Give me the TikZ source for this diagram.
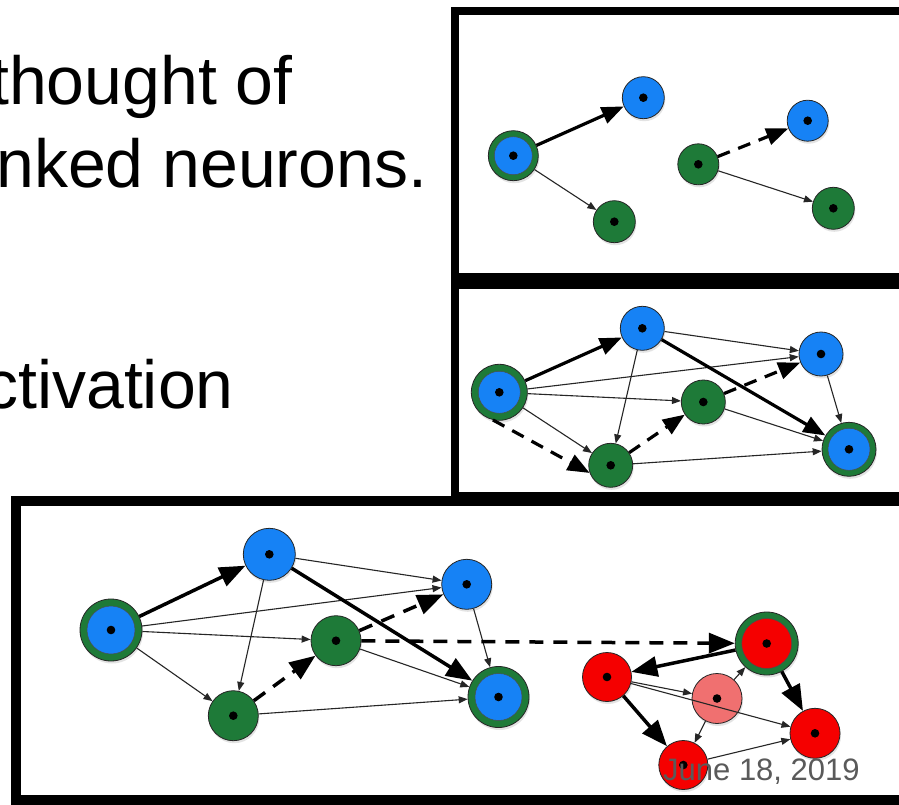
\documentclass[tikz,border=0pt]{standalone}
\usepackage{fontspec}
\setmainfont{Liberation Sans}
\usetikzlibrary{arrows.meta,shadows}

\definecolor{nblue}{RGB}{22,130,245}
\definecolor{ngreen}{RGB}{30,122,56}
\definecolor{nred}{RGB}{245,0,0}
\definecolor{npink}{RGB}{240,112,112}
\definecolor{dategray}{RGB}{90,90,90}

\begin{document}
\begin{tikzpicture}[x=1pt,y=-1pt,
  cell/.style={circle, inner sep=0pt, draw=black!85, line width=0.8pt, minimum size=#1,
    drop shadow={shadow xshift=1pt, shadow yshift=-2.5pt, opacity=0.22}},
  core/.style={path picture={\fill[black] (path picture bounding box.center) circle (4.3pt);}},
  ringcore/.style 2 args={path picture={
    \filldraw[fill=#1, draw=black!70, line width=0.5pt] (path picture bounding box.center) circle (#2);
    \fill[black] (path picture bounding box.center) circle (4.3pt);}},
  weak/.style={-{Triangle[length=9pt,width=7pt]}, line width=1.1pt, draw=black!85},
  strong/.style={-{Triangle[length=22pt,width=17pt]}, line width=3.2pt},
  strongbig/.style={-{Triangle[length=26pt,width=20pt]}, line width=3.5pt},
  dashlink/.style={strong, dash pattern=on 13pt off 9pt},
  dashlinkbig/.style={strongbig, dash pattern=on 14pt off 10pt},
  frame/.style={draw=black, fill=white, line width=#1},
  bigtext/.style={anchor=base west, inner sep=0pt, font=\fontsize{68}{80}\selectfont},
]
\useasboundingbox (0,0) rectangle (899,805);
\clip (0,0) rectangle (899,805);
\fill[white] (0,0) rectangle (899,805);

% slide text, cut at the left edge
\node[bigtext] (l1) at (-10,105) {thought of};
\node[bigtext] (l2) at (-4,188) {nked neurons.};
\node[bigtext] (l3) at (-16,408) {ctivation};

% panel frames
\draw[frame=8pt] (454.5,11.5) rectangle (910,276.5);
\draw[frame=8pt] (454.5,284.5) rectangle (910,496);
\draw[frame=10pt] (15.5,501) rectangle (910,800);

% ---- top panel ----
\node[cell=50pt, fill=ngreen, ringcore={nblue}{19pt}] (tA) at (513.3,155.7) {};
\node[cell=42pt, fill=nblue, core] (tB) at (643.3,97.7) {};
\node[cell=42pt, fill=ngreen, core] (tC) at (614.3,221.7) {};
\node[cell=41pt, fill=ngreen, core] (tD) at (698.3,164.3) {};
\node[cell=41pt, fill=nblue, core] (tE) at (807.7,120.7) {};
\node[cell=42pt, fill=ngreen, core] (tF) at (833.3,208.3) {};
\draw[strong] (tA) -- (tB);
\draw[weak] (tA) -- (tC);
\draw[dashlink] (tD) -- (tE);
\draw[weak] (tD) -- (tF);

% ---- middle panel ----
\node[cell=56pt, fill=ngreen, ringcore={nblue}{21pt}] (mA) at (499.3,392.3) {};
\node[cell=44pt, fill=nblue, core] (mB) at (642.3,328.3) {};
\node[cell=44pt, fill=nblue, core] (mC) at (821,354) {};
\node[cell=44pt, fill=ngreen, core] (mD) at (703.3,402) {};
\node[cell=44pt, fill=ngreen, core] (mE) at (610.7,465.3) {};
\node[cell=54pt, fill=ngreen, ringcore={nblue}{21pt}] (mF) at (849,449.3) {};
\draw[strong] (mA) -- (mB);
\draw[weak] (mA) -- (mC);
\draw[weak] (mA) -- (mD);
\draw[weak] (mA) -- (mE);
\draw[dashlink] (mA.-103) -- (mE.200);
\draw[weak] (mB) -- (mC);
\draw[strong] (mB) -- (mF);
\draw[weak] (mB) -- (mE);
\draw[dashlink] (mE) -- (mD);
\draw[dashlink] (mD) -- (mC);
\draw[weak] (mD) -- (mF);
\draw[weak] (mE) -- (mF);
\draw[weak] (mC) -- (mF);

% ---- bottom panel ----
\node[cell=62pt, fill=ngreen, ringcore={nblue}{24pt}] (bA) at (111,630) {};
\node[cell=52pt, fill=nblue, core] (bB) at (269.3,554.3) {};
\node[cell=50pt, fill=nblue, core] (bC) at (466.7,584.3) {};
\node[cell=50pt, fill=ngreen, core] (bD) at (336,640.7) {};
\node[cell=50pt, fill=ngreen, core] (bE) at (233.3,715.7) {};
\node[cell=61pt, fill=ngreen, ringcore={nblue}{23.5pt}] (bF) at (498.5,697) {};
\node[cell=63pt, fill=ngreen, ringcore={nred}{25pt}] (r1) at (766.7,643.5) {};
\node[cell=49pt, fill=nred, core] (r2) at (607,677) {};
\node[cell=50pt, fill=npink, core] (rp) at (717,698.5) {};
\node[cell=50pt, fill=nred, core] (r3) at (815,733.3) {};
\node[cell=49pt, fill=nred, core] (r4) at (683.3,765) {};
\draw[strongbig] (bA) -- (bB);
\draw[weak] (bA) -- (bC);
\draw[weak] (bA) -- (bD);
\draw[weak] (bA) -- (bE);
\draw[weak] (bB) -- (bC);
\draw[strongbig] (bB) -- (bF);
\draw[weak] (bB) -- (bE);
\draw[dashlinkbig] (bE) -- (bD);
\draw[dashlinkbig] (bD) -- (bC);
\draw[weak] (bD) -- (bF);
\draw[weak] (bE) -- (bF);
\draw[weak] (bC) -- (bF);
\draw[dashlinkbig] (bD) -- (r1);
\draw[strongbig] (r1) -- (r2);
\draw[strongbig] (r1) -- (r3);
\draw[strongbig] (r2) -- (r4);
\draw[weak] (r2) -- (rp);
\draw[weak] (r2) -- (r3);
\draw[weak] (rp) -- (r1);
\draw[weak] (rp) -- (r4);
\draw[weak] (r4) -- (r3);

\node[anchor=base west, inner sep=0pt, font=\fontsize{31}{36}\selectfont, text=dategray] (date) at (663,780) {June 18, 2019};
\end{tikzpicture}
\end{document}
